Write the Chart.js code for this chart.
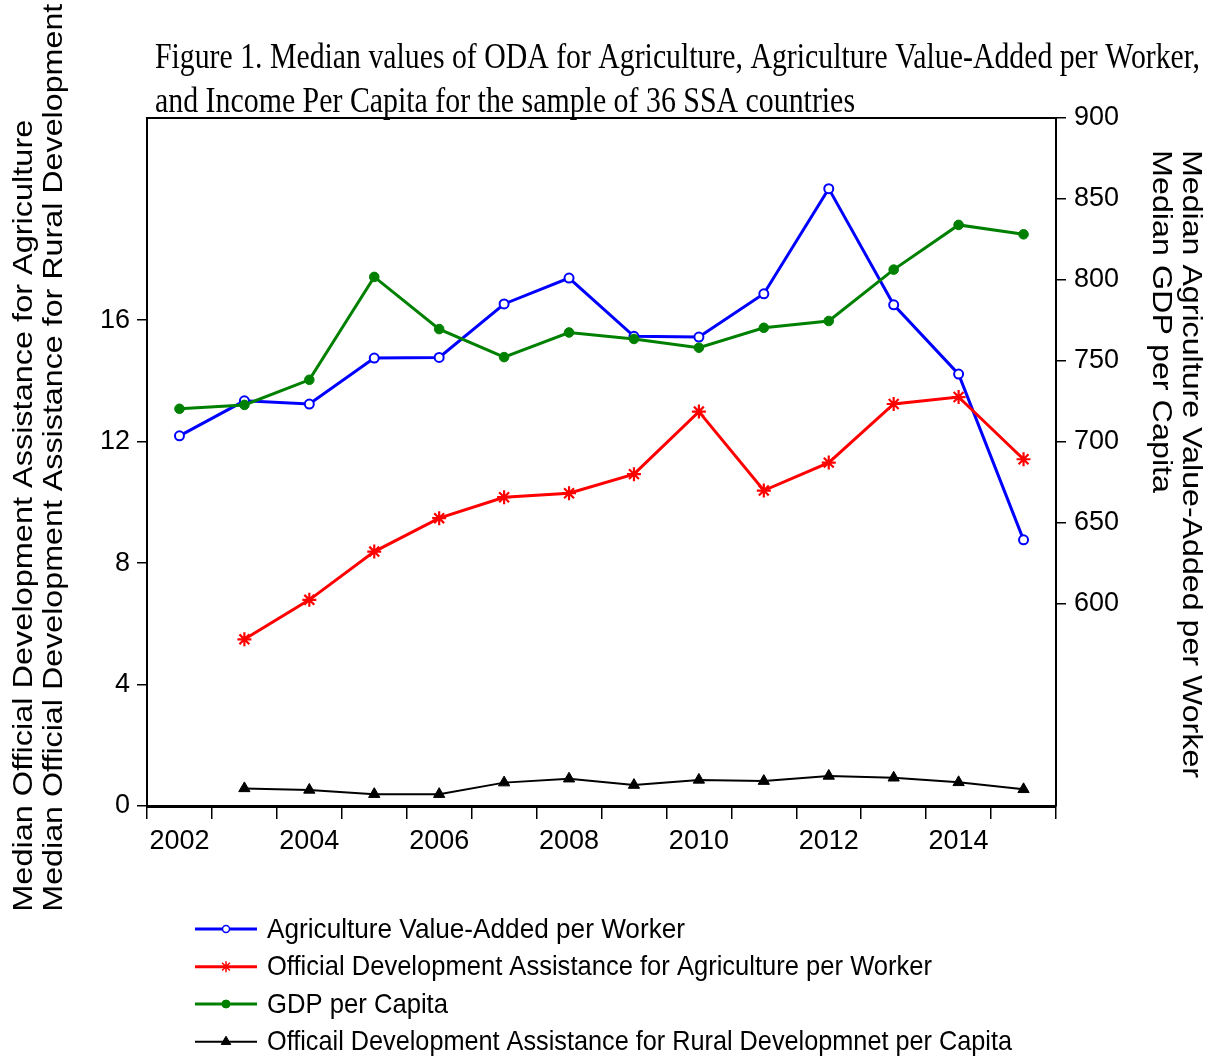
<!DOCTYPE html>
<html>
<head>
<meta charset="utf-8">
<script src="https://cdn.jsdelivr.net/npm/chart.js@4.4.1/dist/chart.umd.min.js"></script>
<style>
html,body{margin:0;padding:0;background:#fff;}
#wrap{width:1212px;height:1057px;position:relative;}
</style>
</head>
<body>
<div id="wrap"><canvas id="c"></canvas></div>
<script>
// ---------------- DATA ----------------
const years = ['2002','2003','2004','2005','2006','2007','2008','2009','2010','2011','2012','2013','2014','2015'];
// right axis
const agriValueAdded = [703.8, 725.4, 723.4, 751.8, 752.2, 785.2, 801.2, 765.2, 764.8, 791.5, 856.4, 784.7, 741.9, 639.6];
const gdpPerCapita   = [720.5, 722.9, 738.4, 801.9, 769.7, 752.4, 767.6, 763.6, 758.2, 770.5, 774.7, 806.4, 834.0, 828.2];
// left axis
const odaAgriPerWorker  = [null, 5.49, 6.79, 8.38, 9.48, 10.17, 10.30, 10.93, 12.99, 10.39, 11.31, 13.24, 13.47, 11.42];
const odaRuralPerCapita = [null, 0.58, 0.53, 0.39, 0.39, 0.77, 0.90, 0.69, 0.86, 0.82, 0.99, 0.93, 0.78, 0.55];

const leftTicks  = [0, 4, 8, 12, 16];
const rightTicks = [600, 650, 700, 750, 800, 850, 900];
const leftRange  = [0, 22.66];
const rightRange = [475.3, 900];

const seriesNames = [
  'Agriculture Value-Added per Worker',
  'Official Development Assistance for Agriculture per Worker',
  'GDP per Capita',
  'Officail Development Assistance for Rural Developmnet per Capita'
];
const titleLines = [
  'Figure 1. Median values of ODA for Agriculture, Agriculture Value-Added per Worker,',
  'and Income Per Capita for the sample of 36 SSA countries'
];
const leftTitles = [
  'Median Official Development Assistance for Agriculture',
  'Median Official Development Assistance for Rural Development'
];
const rightTitles = [
  'Median Agriculture Value-Added per Worker',
  'Median GDP per Capita'
];

// ---------------- HELPERS ----------------
function fitText(ctx, text, x, y, width, font, rot) {
  ctx.save();
  ctx.font = font;
  ctx.fillStyle = '#000';
  ctx.textBaseline = 'alphabetic';
  ctx.textAlign = 'left';
  const w = ctx.measureText(text).width;
  ctx.translate(x, y);
  if (rot) ctx.rotate(rot);
  ctx.scale(width / w, 1);
  ctx.fillText(text, 0, 0);
  ctx.restore();
}

const SANS = '"Liberation Sans", Arial, sans-serif';
const SERIF = '"Liberation Serif", "Times New Roman", serif';

const textPlugin = {
  id: 'texts',
  afterDraw(chart) {
    const ctx = chart.ctx;
    const ca = chart.chartArea;
    // top frame line
    ctx.save();
    ctx.strokeStyle = '#000';
    ctx.lineWidth = 2;
    ctx.beginPath();
    ctx.moveTo(ca.left, ca.top);
    ctx.lineTo(ca.right, ca.top);
    ctx.stroke();
    ctx.restore();

    // title
    fitText(ctx, titleLines[0], 155, 68, 1045, '35px ' + SERIF);
    fitText(ctx, titleLines[1], 155, 112, 700, '35px ' + SERIF);

    // left axis titles (rotated CCW)
    fitText(ctx, leftTitles[0], 31.5, 911.7, 792, '28px ' + SANS, -Math.PI / 2);
    fitText(ctx, leftTitles[1], 61.5, 911.7, 908, '28px ' + SANS, -Math.PI / 2);

    // right axis titles (rotated CW)
    fitText(ctx, rightTitles[0], 1183, 150, 628, '28px ' + SANS, Math.PI / 2);
    fitText(ctx, rightTitles[1], 1153, 150, 343, '28px ' + SANS, Math.PI / 2);

    // legend
    const rowsY = [929, 966.7, 1004, 1041.7];
    const widths = [418, 665, 181, 745];
    const lgMarks = [
      {pointStyle: 'circle', radius: 3.5, borderWidth: 1.5},
      {pointStyle: 'star', radius: 5.5, borderWidth: 1.5},
      {pointStyle: 'circle', radius: 4, borderWidth: 1},
      {pointStyle: 'triangle', radius: 5.5, borderWidth: 1}
    ];
    chart.data.datasets.forEach((ds, i) => {
      const y = rowsY[i];
      ctx.save();
      ctx.strokeStyle = ds.borderColor;
      ctx.lineWidth = ds.borderWidth;
      ctx.beginPath();
      ctx.moveTo(195, y);
      ctx.lineTo(257, y);
      ctx.stroke();
      ctx.fillStyle = ds.pointBackgroundColor;
      ctx.strokeStyle = ds.pointBorderColor;
      ctx.lineWidth = lgMarks[i].borderWidth;
      Chart.helpers.drawPoint(ctx, {pointStyle: lgMarks[i].pointStyle, radius: lgMarks[i].radius, rotation: 0, borderWidth: lgMarks[i].borderWidth}, 226, y);
      ctx.restore();
      fitText(ctx, ds.label, 267, y + 8.5, widths[i], '27.5px ' + SANS);
    });
  }
};

// ---------------- CHART ----------------
const ctx = document.getElementById('c').getContext('2d');
new Chart(ctx, {
  type: 'line',
  data: {
    labels: years,
    datasets: [
      {
        label: seriesNames[0], data: agriValueAdded, yAxisID: 'y1',
        borderColor: '#0000FF', borderWidth: 3,
        pointStyle: 'circle', pointRadius: 4.5, pointBorderWidth: 2,
        pointBackgroundColor: '#FFFFFF', pointBorderColor: '#0000FF',
        order: 4, tension: 0
      },
      {
        label: seriesNames[1], data: odaAgriPerWorker, yAxisID: 'y',
        borderColor: '#FF0000', borderWidth: 3,
        pointStyle: 'star', pointRadius: 7, pointBorderWidth: 2.2,
        pointBackgroundColor: '#FF0000', pointBorderColor: '#FF0000',
        order: 3, tension: 0
      },
      {
        label: seriesNames[2], data: gdpPerCapita, yAxisID: 'y1',
        borderColor: '#008000', borderWidth: 3,
        pointStyle: 'circle', pointRadius: 4.8, pointBorderWidth: 1,
        pointBackgroundColor: '#008000', pointBorderColor: '#008000',
        order: 2, tension: 0
      },
      {
        label: seriesNames[3], data: odaRuralPerCapita, yAxisID: 'y',
        borderColor: '#000000', borderWidth: 2,
        pointStyle: 'triangle', pointRadius: 6.5, pointBorderWidth: 1,
        pointBackgroundColor: '#000000', pointBorderColor: '#000000',
        order: 1, tension: 0
      }
    ]
  },
  options: {
    responsive: true,
    maintainAspectRatio: false,
    animation: false,
    events: [],
    layout: {padding: {top: 118, left: 0, right: 0, bottom: 0}},
    plugins: {
      legend: {display: false},
      title: {display: false},
      tooltip: {enabled: false}
    },
    scales: {
      x: {
        type: 'category',
        offset: true,
        grid: {offset: true, drawOnChartArea: false, drawTicks: true, tickLength: 13, color: '#000', lineWidth: 1.5},
        border: {display: true, color: '#000', width: 3},
        ticks: {
          autoSkip: false, maxRotation: 0, minRotation: 0, padding: 6,
          color: '#000', font: {family: SANS, size: 27},
          callback: function(v, i) { return i % 2 === 0 ? years[i] : ''; }
        },
        afterFit(s) { s.height = 1057 - 806; }
      },
      y: {
        type: 'linear', position: 'left',
        min: leftRange[0], max: leftRange[1],
        grid: {drawOnChartArea: false, drawTicks: true, tickLength: 10, color: '#000', lineWidth: 1.5},
        border: {display: true, color: '#000', width: 2},
        ticks: {padding: 7, color: '#000', font: {family: SANS, size: 27}},
        afterBuildTicks(s) { s.ticks = leftTicks.map(v => ({value: v})); },
        afterFit(s) { s.width = 147; }
      },
      y1: {
        type: 'linear', position: 'right',
        min: rightRange[0], max: rightRange[1],
        grid: {drawOnChartArea: false, drawTicks: true, tickLength: 10, color: '#000', lineWidth: 1.5},
        border: {display: true, color: '#000', width: 2},
        ticks: {padding: 8, color: '#000', font: {family: SANS, size: 27}},
        afterBuildTicks(s) { s.ticks = rightTicks.map(v => ({value: v})); },
        afterFit(s) { s.width = 1212 - 1056; }
      }
    }
  },
  plugins: [textPlugin]
});
</script>
</body>
</html>
